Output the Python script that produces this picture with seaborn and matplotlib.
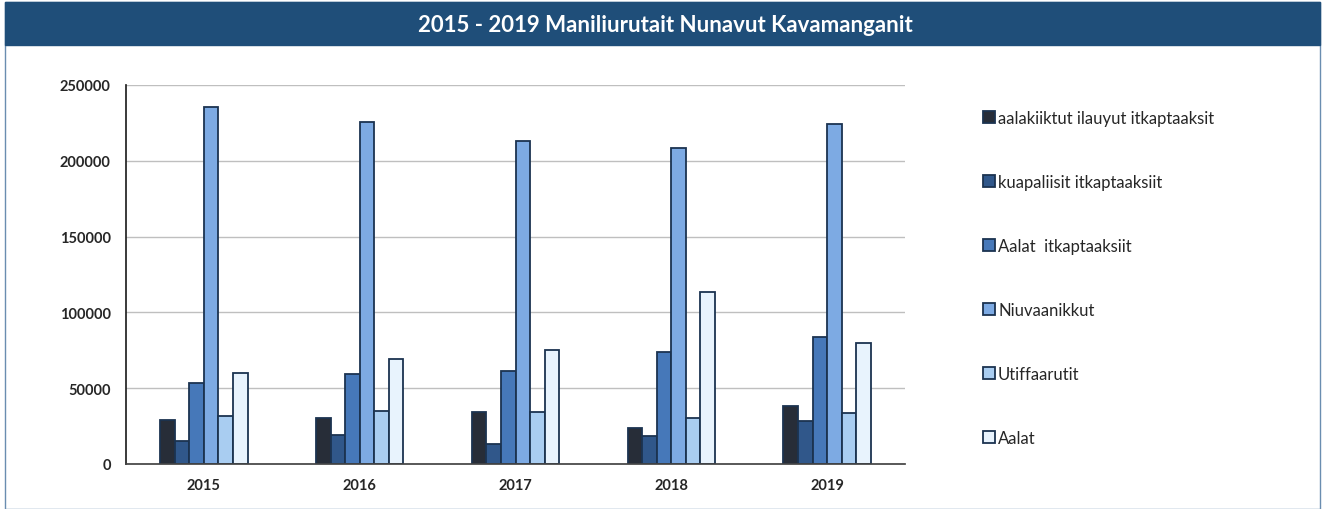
import seaborn as sns
import matplotlib.pyplot as plt
import pandas as pd
from matplotlib.patches import Rectangle

years = ["2015", "2016", "2017", "2018", "2019"]
series = [
    "aalakiiktut ilauyut itkaptaaksit",
    "kuapaliisit itkaptaaksiit",
    "Aalat  itkaptaaksiit",
    "Niuvaanikkut",
    "Utiffaarutit",
    "Aalat",
]
aalakiiktut = [29200, 30500, 34100, 23500, 38500]
kuapaliisit = [15000, 19100, 13200, 18500, 28600]
aalat_itkap = [53600, 59100, 61500, 73900, 84000]
niuvaanikkut = [235300, 225800, 212800, 208700, 224500]
utiffaarutit = [31700, 35200, 34300, 30100, 33400]
aalat = [60200, 69000, 75400, 113700, 79600]
values = [aalakiiktut, kuapaliisit, aalat_itkap, niuvaanikkut, utiffaarutit, aalat]

colors = ["#272D38", "#30578A", "#4678B9", "#7DAAE3", "#A9CDF1", "#E8F3FD"]

rows = []
for name, vals in zip(series, values):
    for y, v in zip(years, vals):
        rows.append({"Year": y, "Series": name, "Value": v})
df = pd.DataFrame(rows)

sns.set_theme(style="white")
plt.rcParams["font.family"] = ["Lato", "DejaVu Sans"]

fig = plt.figure(figsize=(13.25, 5.1), dpi=100)
ax = fig.add_axes([126 / 1325, 45 / 510, 779 / 1325, 379 / 510])

sns.barplot(data=df, x="Year", y="Value", hue="Series", palette=colors,
            width=0.56, gap=0, edgecolor="#1B3350", linewidth=1.3,
            saturation=1, legend=True, ax=ax)

ax.set_ylim(0, 250000)
ax.set_yticks(range(0, 250001, 50000))
ax.yaxis.grid(True, color="#BFBFBF", linewidth=1)
ax.set_axisbelow(True)
ax.set_xlabel("")
ax.set_ylabel("")
for s in ["top", "right"]:
    ax.spines[s].set_visible(False)
ax.spines["left"].set_color("#222222")
ax.spines["bottom"].set_color("#444444")
ax.tick_params(axis="y", labelsize=10.5, length=0, pad=11)
ax.tick_params(axis="x", labelsize=10.5, length=0, pad=10)
for lbl in ax.get_xticklabels() + ax.get_yticklabels():
    lbl.set_fontweight("bold")

handles, labels = ax.get_legend_handles_labels()
ax.get_legend().remove()
fig.legend(handles, labels, loc="upper left", bbox_to_anchor=(968 / 1325, 1 - 96 / 510),
           frameon=False, fontsize=12, handlelength=0.7, handleheight=0.7,
           handletextpad=0.2, labelspacing=2.88)

# title bar and frame
fig.patches.append(Rectangle((5 / 1325, 0), 1315 / 1325, 1 - 3 / 510, transform=fig.transFigure,
                             fill=False, edgecolor="#6A8DB0", linewidth=1))
fig.patches.append(Rectangle((5 / 1325, 1 - 46 / 510), 1315 / 1325, 43 / 510, transform=fig.transFigure,
                             facecolor="#1F4E79", edgecolor="#1F4E79"))
fig.text(0.502, 1 - 25 / 510, "2015 - 2019 Maniliurutait Nunavut Kavamanganit",
         color="white", fontsize=16, fontweight="bold", ha="center", va="center")

fig.savefig("out.png", dpi=100)
